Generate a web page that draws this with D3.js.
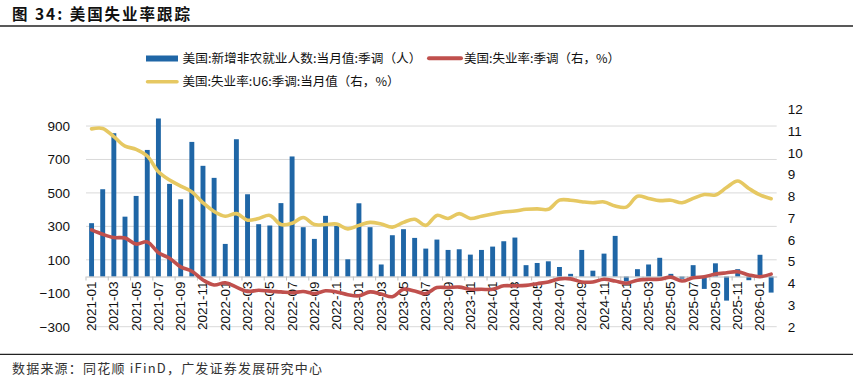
<!DOCTYPE html>
<html>
<head>
<meta charset="utf-8">
<script src="https://cdn.jsdelivr.net/npm/d3@7"></script>
<style>
html,body{margin:0;padding:0;background:#fff;}
svg{display:block;}
</style>
</head>
<body>
<svg id="chart" width="865" height="378"></svg>
<script>
const categories = [
  "2021-01","2021-02","2021-03","2021-04","2021-05","2021-06","2021-07","2021-08","2021-09","2021-10","2021-11","2021-12",
  "2022-01","2022-02","2022-03","2022-04","2022-05","2022-06","2022-07","2022-08","2022-09","2022-10","2022-11","2022-12",
  "2023-01","2023-02","2023-03","2023-04","2023-05","2023-06","2023-07","2023-08","2023-09","2023-10","2023-11","2023-12",
  "2024-01","2024-02","2024-03","2024-04","2024-05","2024-06","2024-07","2024-08","2024-09","2024-10","2024-11","2024-12",
  "2025-01","2025-02","2025-03","2025-04","2025-05","2025-06","2025-07","2025-08","2025-09","2025-10","2025-11","2025-12",
  "2026-01","2026-02"
];
const payrolls = [
  319, 522, 857, 358, 482, 757, 945, 554, 462, 805, 662, 590,
  195, 821, 492, 313, 305, 439, 718, 295, 225, 363, 303, 103,
  438, 295, 72, 247, 283, 231, 167, 221, 159, 163, 131, 159,
  179, 211, 233, 68, 81, 91, 57, 16, 159, 35, 137, 243,
  -30, 44, 72, 112, 16, -13, 68, -74, 79, -144, 44, -22,
  130, -96
];
const unemployment = [
  6.45, 6.25, 6.1, 6.08, 5.8, 5.9, 5.4, 5.15, 4.75, 4.55, 4.15, 3.92,
  4.02, 3.82, 3.62, 3.68, 3.63, 3.6, 3.56, 3.62, 3.52, 3.65, 3.6, 3.47,
  3.42, 3.6, 3.5, 3.38, 3.72, 3.64, 3.52, 3.8, 3.8, 3.82, 3.72, 3.72,
  3.72, 3.88, 3.88, 3.9, 3.98, 4.06, 4.2, 4.2, 4.06, 4.06, 4.18, 4.1,
  4.0, 4.14, 4.18, 4.18, 4.28, 4.1, 4.25, 4.3, 4.42, 4.48, 4.53, 4.38,
  4.3, 4.42
];
const u6 = [
  11.1, 11.12, 10.74, 10.31, 10.16, 9.85, 9.13, 8.75, 8.47, 8.2, 7.7, 7.3,
  7.08, 7.2, 6.9, 6.98, 7.12, 6.7, 6.76, 7.02, 6.7, 6.7, 6.72, 6.5,
  6.66, 6.8, 6.72, 6.58, 6.8, 6.94, 6.66, 7.12, 6.98, 7.2, 6.98, 7.08,
  7.18, 7.28, 7.32, 7.4, 7.42, 7.4, 7.82, 7.82, 7.75, 7.7, 7.74, 7.55,
  7.5, 8.0, 7.9, 7.8, 7.82, 7.7, 7.9, 8.08, 8.06, 8.4, 8.7, 8.36,
  8.06, 7.89
];
const leftTicks = [-300, -100, 100, 300, 500, 700, 900];
const leftGrid = [100, 300, 500, 700, 900];
const rightTicks = [2, 3, 4, 5, 6, 7, 8, 9, 10, 11, 12];
const titleText = "图 34: 美国失业率跟踪";
const sourceText = "数据来源：同花顺 iFinD，广发证券发展研究中心";
const legendBar = "美国:新增非农就业人数:当月值:季调（人）";
const legendU3 = "美国:失业率:季调（右，%）";
const legendU6 = "美国:失业率:U6:季调:当月值（右，%）";

const BLUE = "#1F66A6", RED = "#C0504D", GOLD = "#E6C862";
const svg = d3.select("#chart");
const latin = "'Liberation Sans', Arial, sans-serif";
const cjk = "'Noto Sans CJK SC', 'Liberation Sans', sans-serif";

// header
svg.append("text").attr("x", 12).attr("y", 19.5)
  .attr("font-family", cjk).attr("font-size", 15.5).attr("font-weight", "bold").attr("fill", "#111")
  .attr("textLength", 178).attr("lengthAdjust", "spacing")
  .text(titleText);
svg.append("line").attr("x1", 0).attr("x2", 853).attr("y1", 26).attr("y2", 26)
  .attr("stroke", "#222").attr("stroke-width", 1.4);
svg.append("line").attr("x1", 0).attr("x2", 853).attr("y1", 354.3).attr("y2", 354.3)
  .attr("stroke", "#222").attr("stroke-width", 1.2);
svg.append("text").attr("x", 12).attr("y", 372.5)
  .attr("font-family", cjk).attr("font-size", 13).attr("fill", "#333")
  .attr("textLength", 310).attr("lengthAdjust", "spacing")
  .text(sourceText);

// scales
const x = d3.scaleBand().domain(categories).range([86, 776.7]).paddingInner(0.56).paddingOuter(0.28);
const yL = d3.scaleLinear().domain([-300, 1000]).range([326.7, 109.3]);
const yR = d3.scaleLinear().domain([2, 12]).range([326.7, 109.3]);
const cx = c => x(c) + x.bandwidth() / 2;
const [x0, x1] = x.range();

// grid
svg.append("g").selectAll("line").data(leftGrid).join("line")
  .attr("x1", x0).attr("x2", x1).attr("y1", d => yL(d)).attr("y2", d => yL(d))
  .attr("stroke", "#d9d9d9").attr("stroke-width", 1);
svg.append("line").attr("x1", x0).attr("x2", x1).attr("y1", yL(-300)).attr("y2", yL(-300))
  .attr("stroke", "#d9d9d9").attr("stroke-width", 1);

// left axis labels
const axL = svg.append("g").attr("transform", `translate(${x0 - 16},0)`)
  .call(d3.axisLeft(yL).tickValues(leftTicks).tickSize(0).tickPadding(0).tickFormat(d3.format("d")));
axL.select(".domain").remove();
axL.selectAll("text").attr("font-family", latin).attr("font-size", 13.5).attr("fill", "#111");

// right axis labels
const axR = svg.append("g").attr("transform", `translate(${x1 + 11},0)`)
  .call(d3.axisRight(yR).tickValues(rightTicks).tickSize(0).tickPadding(0));
axR.select(".domain").remove();
axR.selectAll("text").attr("font-family", latin).attr("font-size", 13.5).attr("fill", "#111");

// bars
svg.append("g").selectAll("rect").data(categories).join("rect")
  .attr("x", d => x(d))
  .attr("width", x.bandwidth())
  .attr("y", (d, i) => Math.min(yL(payrolls[i]), yL(0)))
  .attr("height", (d, i) => Math.abs(yL(payrolls[i]) - yL(0)))
  .attr("fill", BLUE);

// x axis
const axX = svg.append("g").attr("transform", `translate(0,${yL(0)})`)
  .call(d3.axisBottom(x).tickSize(0).tickFormat(() => ""));
axX.selectAll(".tick").remove();
axX.select(".domain").attr("stroke", "#bfbfbf").attr("stroke-width", 1);
const half = x.step() * x.paddingInner() / 2;
const tickCats = categories.filter((d, i) => i % 2 === 0);
svg.append("g").selectAll("line").data(tickCats).join("line")
  .attr("x1", d => x(d) - half).attr("x2", d => x(d) - half)
  .attr("y1", yL(0)).attr("y2", yL(0) + 4)
  .attr("stroke", "#bfbfbf").attr("stroke-width", 1);
svg.append("g").selectAll("text").data(tickCats).join("text")
  .attr("transform", d => `translate(${cx(d) + 4.5},${yL(0) + 5}) rotate(-90)`)
  .attr("text-anchor", "end")
  .attr("font-family", latin).attr("font-size", 13.5).attr("fill", "#111")
  .text(d => d);

// lines
const lineU6 = d3.line().x(d => cx(d[0])).y(d => yR(d[1])).curve(d3.curveCatmullRom.alpha(0.5));
svg.append("path").datum(categories.map((c, i) => [c, u6[i]]))
  .attr("d", lineU6).attr("fill", "none").attr("stroke", GOLD).attr("stroke-width", 3.6)
  .attr("stroke-linejoin", "round").attr("stroke-linecap", "round");
svg.append("path").datum(categories.map((c, i) => [c, unemployment[i]]))
  .attr("d", lineU6).attr("fill", "none").attr("stroke", RED).attr("stroke-width", 3.6)
  .attr("stroke-linejoin", "round").attr("stroke-linecap", "round");

// legend
const lg = svg.append("g");
lg.append("rect").attr("x", 146).attr("y", 55.5).attr("width", 32).attr("height", 6).attr("fill", BLUE);
lg.append("text").attr("x", 182.5).attr("y", 62.8).attr("font-family", cjk).attr("font-size", 12.4).attr("fill", "#111")
  .attr("textLength", 239).attr("lengthAdjust", "spacingAndGlyphs").text(legendBar);
lg.append("line").attr("x1", 429).attr("x2", 461).attr("y1", 58.3).attr("y2", 58.3)
  .attr("stroke", RED).attr("stroke-width", 4).attr("stroke-linecap", "round");
lg.append("text").attr("x", 464).attr("y", 62.8).attr("font-family", cjk).attr("font-size", 12.4).attr("fill", "#111")
  .attr("textLength", 156).attr("lengthAdjust", "spacingAndGlyphs").text(legendU3);
lg.append("line").attr("x1", 147.5).attr("x2", 177).attr("y1", 81.7).attr("y2", 81.7)
  .attr("stroke", GOLD).attr("stroke-width", 3.5).attr("stroke-linecap", "round");
lg.append("text").attr("x", 182.5).attr("y", 86.2).attr("font-family", cjk).attr("font-size", 12.4).attr("fill", "#111")
  .attr("textLength", 217).attr("lengthAdjust", "spacingAndGlyphs").text(legendU6);
</script>
</body>
</html>
